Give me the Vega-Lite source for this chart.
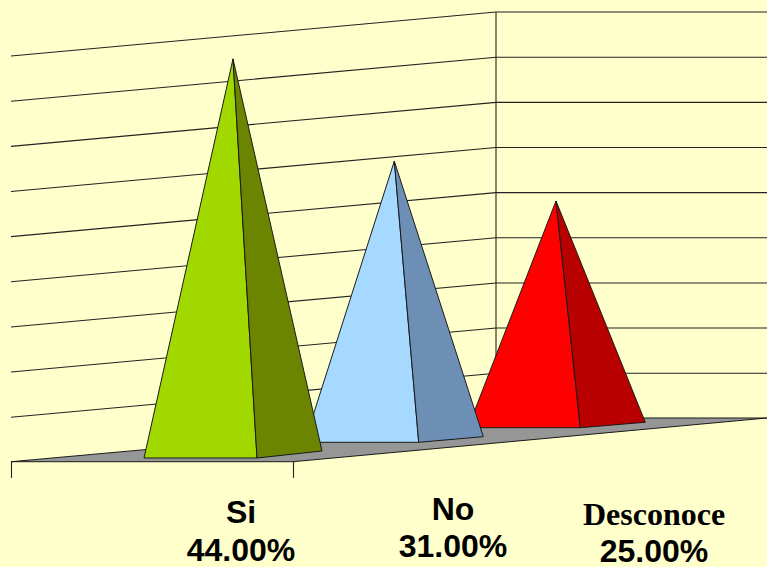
{
  "$schema": "https://vega.github.io/schema/vega-lite/v6.json",
  "width": 767,
  "height": 567,
  "autosize": "none",
  "padding": 0,
  "background": "#FFFFCC",
  "view": {"stroke": null},
  "encoding": {
    "x": {"field": "depth", "type": "quantitative", "scale": {"domain": [0, 767], "nice": false, "zero": false}, "axis": null},
    "y": {"field": "level", "type": "quantitative", "scale": {"domain": [-12.018, 50.496], "nice": false, "zero": false}, "axis": null}
  },
  "layer": [
    {
      "data": {"values": [
        {"line": "g1", "n": 1, "depth": 11, "level": 44.32}, {"line": "g1", "n": 2, "depth": 496, "level": 49.17}, {"line": "g1", "n": 3, "depth": 767, "level": 49.17},
        {"line": "g2", "n": 1, "depth": 11, "level": 39.34}, {"line": "g2", "n": 2, "depth": 496, "level": 44.19}, {"line": "g2", "n": 3, "depth": 767, "level": 44.19},
        {"line": "g3", "n": 1, "depth": 11, "level": 34.36}, {"line": "g3", "n": 2, "depth": 496, "level": 39.21}, {"line": "g3", "n": 3, "depth": 767, "level": 39.21},
        {"line": "g4", "n": 1, "depth": 11, "level": 29.39}, {"line": "g4", "n": 2, "depth": 496, "level": 34.24}, {"line": "g4", "n": 3, "depth": 767, "level": 34.24},
        {"line": "g5", "n": 1, "depth": 11, "level": 24.41}, {"line": "g5", "n": 2, "depth": 496, "level": 29.26}, {"line": "g5", "n": 3, "depth": 767, "level": 29.26},
        {"line": "g6", "n": 1, "depth": 11, "level": 19.43}, {"line": "g6", "n": 2, "depth": 496, "level": 24.28}, {"line": "g6", "n": 3, "depth": 767, "level": 24.28},
        {"line": "g7", "n": 1, "depth": 11, "level": 14.45}, {"line": "g7", "n": 2, "depth": 496, "level": 19.3}, {"line": "g7", "n": 3, "depth": 767, "level": 19.3},
        {"line": "g8", "n": 1, "depth": 11, "level": 9.48}, {"line": "g8", "n": 2, "depth": 496, "level": 14.33}, {"line": "g8", "n": 3, "depth": 767, "level": 14.33},
        {"line": "g9", "n": 1, "depth": 11, "level": 4.5}, {"line": "g9", "n": 2, "depth": 496, "level": 9.35}, {"line": "g9", "n": 3, "depth": 767, "level": 9.35},
        {"line": "corner", "n": 1, "depth": 496, "level": 49.17}, {"line": "corner", "n": 2, "depth": 496, "level": 4.41},
        {"line": "tick1", "n": 1, "depth": 11.5, "level": -0.41}, {"line": "tick1", "n": 2, "depth": 11.5, "level": -2.2},
        {"line": "tick2", "n": 1, "depth": 293.5, "level": -0.41}, {"line": "tick2", "n": 2, "depth": 293.5, "level": -2.2}
      ]},
      "mark": {"type": "line", "stroke": "#222222", "strokeWidth": 1.1, "clip": true},
      "encoding": {
        "detail": {"field": "line"},
        "order": {"field": "n", "type": "quantitative"}
      }
    },
    {
      "data": {"values": [
        {"face": "Piso", "n": 1, "depth": 11, "level": -0.41},
        {"face": "Piso", "n": 2, "depth": 293, "level": -0.41},
        {"face": "Piso", "n": 3, "depth": 767, "level": 4.41},
        {"face": "Piso", "n": 4, "depth": 496, "level": 4.41},
        {"face": "Piso", "n": 5, "depth": 11, "level": -0.41},

        {"face": "Desconoce frente", "n": 1, "depth": 468, "level": 3.34},
        {"face": "Desconoce frente", "n": 2, "depth": 556, "level": 28.34},
        {"face": "Desconoce frente", "n": 3, "depth": 580.3, "level": 3.34},
        {"face": "Desconoce frente", "n": 4, "depth": 468, "level": 3.34},
        {"face": "Desconoce lado", "n": 1, "depth": 556, "level": 28.34},
        {"face": "Desconoce lado", "n": 2, "depth": 645.3, "level": 3.94},
        {"face": "Desconoce lado", "n": 3, "depth": 580.3, "level": 3.34},
        {"face": "Desconoce lado", "n": 4, "depth": 556, "level": 28.34},

        {"face": "No frente", "n": 1, "depth": 304.5, "level": 1.73},
        {"face": "No frente", "n": 2, "depth": 394.3, "level": 32.73},
        {"face": "No frente", "n": 3, "depth": 418.7, "level": 1.73},
        {"face": "No frente", "n": 4, "depth": 304.5, "level": 1.73},
        {"face": "No lado", "n": 1, "depth": 394.3, "level": 32.73},
        {"face": "No lado", "n": 2, "depth": 483.3, "level": 2.35},
        {"face": "No lado", "n": 3, "depth": 418.7, "level": 1.73},
        {"face": "No lado", "n": 4, "depth": 394.3, "level": 32.73},

        {"face": "Si frente", "n": 1, "depth": 144, "level": 0},
        {"face": "Si frente", "n": 2, "depth": 233, "level": 44},
        {"face": "Si frente", "n": 3, "depth": 257, "level": 0},
        {"face": "Si frente", "n": 4, "depth": 144, "level": 0},
        {"face": "Si lado", "n": 1, "depth": 233, "level": 44},
        {"face": "Si lado", "n": 2, "depth": 322, "level": 0.77},
        {"face": "Si lado", "n": 3, "depth": 257, "level": 0},
        {"face": "Si lado", "n": 4, "depth": 233, "level": 44}
      ]},
      "mark": {"type": "line", "stroke": "#1a1a1a", "strokeWidth": 1, "strokeJoin": "miter"},
      "encoding": {
        "fill": {
          "field": "face",
          "type": "nominal",
          "legend": null,
          "sort": null,
          "scale": {
            "domain": ["Piso", "Desconoce frente", "Desconoce lado", "No frente", "No lado", "Si frente", "Si lado"],
            "range": ["#969696", "#FF0000", "#B80000", "#A6D9FF", "#6D8FB5", "#A0D800", "#6B8500"]
          }
        },
        "order": {"field": "n", "type": "quantitative"}
      }
    },
    {
      "data": {"values": [
        {"label": "Si", "depth": 241, "level": -7.22},
        {"label": "44.00%", "depth": 241, "level": -11.4},
        {"label": "No", "depth": 453, "level": -6.89},
        {"label": "31.00%", "depth": 453, "level": -10.97},
        {"label": "25.00%", "depth": 654, "level": -11.5}
      ]},
      "mark": {"type": "text", "font": "Liberation Sans", "fontWeight": "bold", "fontSize": 32, "align": "center", "baseline": "alphabetic", "color": "#000000"},
      "encoding": {"text": {"field": "label"}}
    },
    {
      "data": {"values": [
        {"label": "Desconoce", "depth": 654, "level": -7.4}
      ]},
      "mark": {"type": "text", "font": "Liberation Serif", "fontWeight": "bold", "fontSize": 32, "align": "center", "baseline": "alphabetic", "color": "#000000"},
      "encoding": {"text": {"field": "label"}}
    }
  ]
}
